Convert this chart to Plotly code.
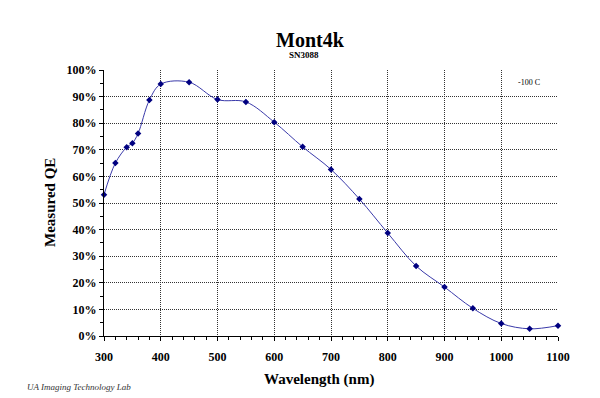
import plotly.graph_objects as go

wavelength = [300, 320, 340, 350, 360, 380, 400, 450, 500, 550, 600, 650, 700,
              750, 800, 850, 900, 950, 1000, 1050, 1100]
qe_percent = [53.1, 65.0, 71.0, 72.5, 76.1, 88.7, 94.7, 95.4, 88.9, 88.0, 80.4,
              71.1, 62.6, 51.5, 38.7, 26.3, 18.4, 10.4, 4.7, 2.7, 3.9]
x_ticks = [300, 400, 500, 600, 700, 800, 900, 1000, 1100]
y_ticks = [0, 10, 20, 30, 40, 50, 60, 70, 80, 90, 100]
y_tick_labels = ["0%", "10%", "20%", "30%", "40%", "50%", "60%", "70%", "80%", "90%", "100%"]

title_text = "Mont4k"
subtitle_text = "SN3088"
x_title = "Wavelength (nm)"
y_title = "Measured QE"
temp_note = "-100 C"
credit = "UA Imaging Technology Lab"

SERIF = "Liberation Serif, Times New Roman, serif"

# The page body has an 8px default margin, so the figure is drawn 8px smaller
OFF = 8
W, H = 600 - OFF, 398 - OFF
L, T, PW, PH = 104 - OFF, 70 - OFF, 454, 266

fig = go.Figure()
fig.add_trace(go.Scatter(
    x=wavelength, y=qe_percent, mode="lines+markers",
    line=dict(color="#3a3aaa", width=1, shape="spline", smoothing=1),
    marker=dict(symbol="diamond", size=5, color="#000080"),
    showlegend=False, cliponaxis=False,
))

axis_common = dict(
    showline=True, linecolor="black", linewidth=1,
    ticks="outside", ticklen=4, tickcolor="black",
    showgrid=True, gridcolor="#333333", gridwidth=1, griddash="1px,1px",
    zeroline=False,
    tickfont=dict(family=SERIF, size=12, color="black", weight="bold"),
)

fig.update_layout(
    width=W, height=H,
    paper_bgcolor="white", plot_bgcolor="white",
    margin=dict(l=L, r=W - L - PW, t=T, b=H - T - PH, autoexpand=False),
    title=dict(text="<b>%s</b>" % title_text, x=(310 - OFF) / W, xanchor="center",
               y=1 - (40 - OFF) / H, yanchor="middle", xref="container", yref="container",
               font=dict(family=SERIF, size=20, color="black")),
    xaxis=dict(range=[300, 1100], tickmode="array", tickvals=x_ticks, ticklabelstandoff=6,
               **axis_common,
               minor=dict(dtick=20, ticks="outside", ticklen=3, tickcolor="black", showgrid=False)),
    yaxis=dict(range=[0, 100], tickmode="array", tickvals=y_ticks, ticktext=y_tick_labels,
               **axis_common,
               minor=dict(dtick=5, ticks="outside", ticklen=3, tickcolor="black", showgrid=False)),
)

def px_x(px):
    return (px - 104) / PW

def px_y(py):
    return (336 - py) / PH

annos = [
    dict(text="<b>%s</b>" % subtitle_text, x=px_x(304), y=px_y(55), size=9),
    dict(text="<b>%s</b>" % x_title, x=px_x(319), y=px_y(379), size=15),
    dict(text=temp_note, x=px_x(529), y=px_y(82), size=8),
]
for a in annos:
    fig.add_annotation(text=a["text"], x=a["x"], y=a["y"], xref="paper", yref="paper",
                       xanchor="center", yanchor="middle", showarrow=False,
                       font=dict(family=SERIF, size=a["size"], color="black"))

fig.add_annotation(text="<b>%s</b>" % y_title, x=px_x(50), y=px_y(203), xref="paper", yref="paper",
                   xanchor="center", yanchor="middle", showarrow=False, textangle=-90,
                   font=dict(family=SERIF, size=15, color="black"))
fig.add_annotation(text="<i>%s</i>" % credit, x=px_x(25), y=px_y(387), xref="paper", yref="paper",
                   xanchor="left", yanchor="middle", showarrow=False,
                   font=dict(family=SERIF, size=9, color="#333333"))

fig.write_html("out.html")
